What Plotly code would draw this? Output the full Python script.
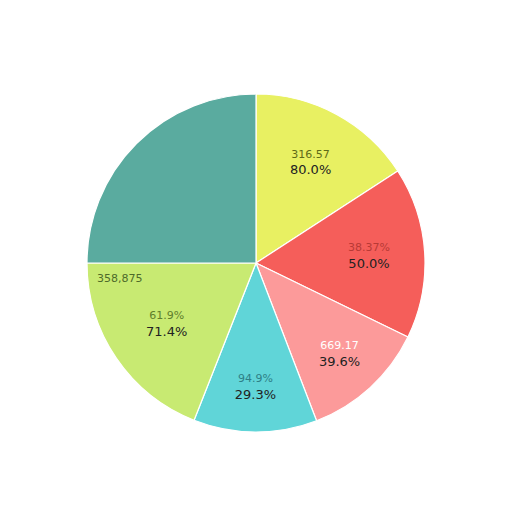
import plotly.graph_objects as go

categories = ["Yellow", "Red", "Pink", "Cyan", "Green", "Teal"]
values = [57, 59, 43, 42.5, 68.5, 90]
colors = ["#e8f062", "#f55e5a", "#fc9a9a", "#60d5d8", "#c8ea72", "#5aab9f"]
top_labels = ["316.57", "38.37%", "669.17", "94.9%", "61.9%", ""]
pct_labels = ["80.0%", "50.0%", "39.6%", "29.3%", "71.4%", ""]
top_colors = ["#5f6a18", "#b83a36", "#ffffff", "#2e7f86", "#5f7e2c", "#2f6e66"]
extra_label = "358,875"

texts = []
for t, p, c in zip(top_labels, pct_labels, top_colors):
    if t:
        texts.append(f"<span style='font-size:11px;color:{c}'>{t}</span><br>{p}")
    else:
        texts.append("")

fig = go.Figure(go.Pie(
    labels=categories,
    values=values,
    text=texts,
    textinfo="text",
    textposition="inside",
    insidetextorientation="horizontal",
    sort=False,
    direction="clockwise",
    rotation=0,
    marker=dict(colors=colors, line=dict(color="white", width=1.2)),
    textfont=dict(family="DejaVu Sans", size=13, color="#222222"),
    showlegend=False,
    hoverinfo="label+value",
))

fig.add_annotation(
    text=extra_label, x=0.098, y=0.453, xref="paper", yref="paper",
    xanchor="center", yanchor="middle",
    showarrow=False, font=dict(family="DejaVu Sans", size=11, color="#4e6a2a"),
)

fig.update_layout(
    width=512, height=512,
    margin=dict(l=79, r=95, t=86, b=88),
    paper_bgcolor="white",
    plot_bgcolor="white",
)

fig.write_html("out.html")
